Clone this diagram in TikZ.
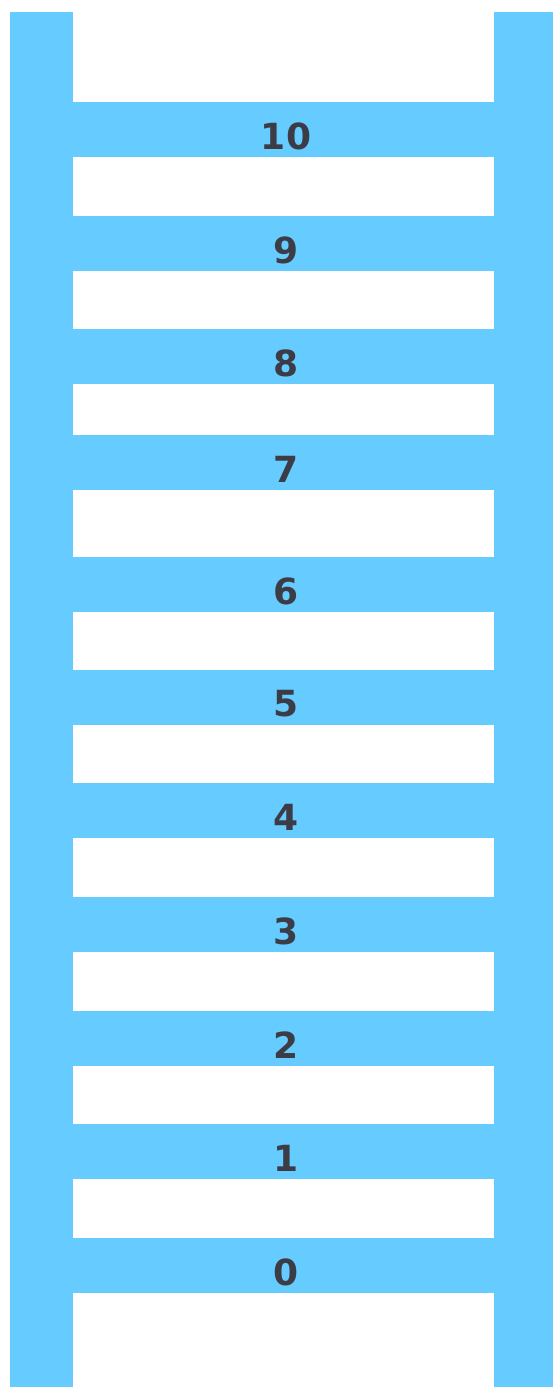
\documentclass[tikz,border=0pt]{standalone}
\usepackage{fontspec}
\setsansfont{DejaVu Sans}
\usetikzlibrary{positioning}
\definecolor{railBlue}{HTML}{66CCFF}
\definecolor{numGrey}{HTML}{3C3C46}
\def\rungh{55}
\def\railL{73}
\def\railR{494}
\def\numx{286}

\begin{document}
\begin{tikzpicture}[
  x=1pt, y=-1pt,
  rail/.style={fill=railBlue, draw=none},
  rung/.style={fill=railBlue, draw=none},
  rungnum/.style={font=\sffamily\bfseries\fontsize{36}{36}\selectfont, text=numGrey, inner sep=0pt},
]
\useasboundingbox (0,0) rectangle (553,1387);

% =====================================================================
% RAILS
% =====================================================================
\fill[rail] (10,12) rectangle (\railL,1387);
\fill[rail] (\railR,12) rectangle (553,1387);

% =====================================================================
% RUNGS : number / top edge
% =====================================================================
\foreach \n/\ty in {10/102,9/216,8/329,7/435,6/557,5/670,4/783,3/897,2/1011,1/1124,0/1238}{
  \fill[rung] (\railL,\ty) rectangle (\railR,\ty+\rungh);
  \node[rungnum] (num\n) at (\numx,\ty+34) {\n};
}

\end{tikzpicture}
\end{document}
